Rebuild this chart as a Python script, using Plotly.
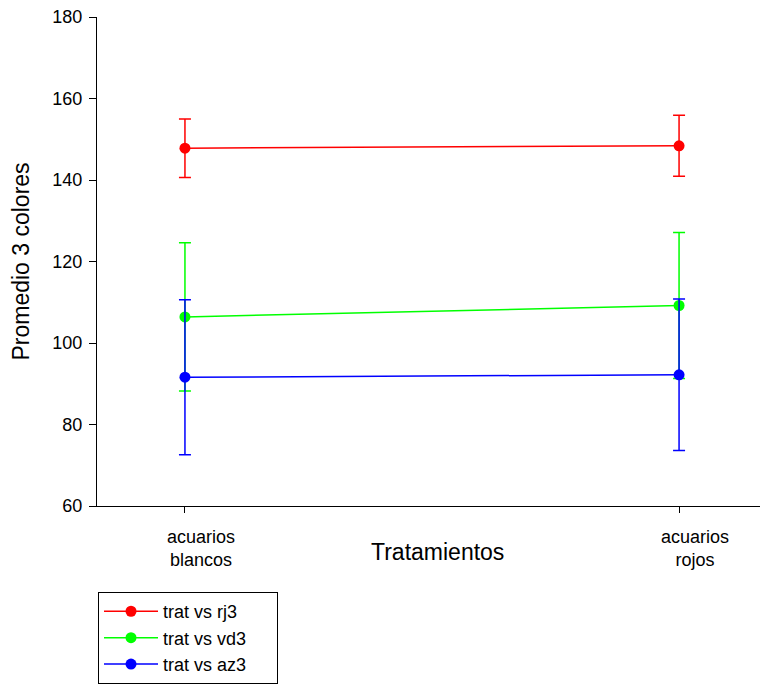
import plotly.graph_objects as go

categories = ["acuarios<br>blancos", "acuarios<br>rojos"]
series_names = ["trat vs rj3", "trat vs vd3", "trat vs az3"]
rj3_mean = [147.8, 148.4]
rj3_err = [7.2, 7.5]
vd3_mean = [106.4, 109.2]
vd3_err = [18.2, 17.9]
az3_mean = [91.6, 92.2]
az3_err = [19.0, 18.6]
y_ticks = [60, 80, 100, 120, 140, 160, 180]

colors = ["#ff0000", "#00ff00", "#0000ff"]
means = [rj3_mean, vd3_mean, az3_mean]
errs = [rj3_err, vd3_err, az3_err]

pad = "\u00a0" * 5

fig = go.Figure()
for name, m, e, c in zip(series_names, means, errs, colors):
    fig.add_trace(go.Scatter(
        x=categories, y=m, name=name + pad, mode="lines+markers",
        line=dict(color=c, width=1.5),
        marker=dict(color=c, size=11),
        error_y=dict(type="data", array=e, visible=True, color=c,
                     thickness=1.5, width=6),
    ))

font = "Liberation Sans, Arial, sans-serif"
fig.update_layout(
    width=768, height=686,
    margin=dict(l=89, r=8, t=9, b=188, autoexpand=False),
    plot_bgcolor="white", paper_bgcolor="white",
    font=dict(family=font, color="black", size=18),
    showlegend=True,
    legend=dict(
        x=0.0015, y=-0.176, xanchor="left", yanchor="top",
        bordercolor="black", borderwidth=1,
        font=dict(size=18, family=font),
        itemwidth=54, tracegroupgap=0,
        bgcolor="white",
    ),
    xaxis=dict(
        type="category", range=[-0.178, 1.18], automargin=False,
        showline=True, linecolor="black", linewidth=1,
        ticks="outside", ticklen=6, tickcolor="black",
        showgrid=False, zeroline=False,
        tickfont=dict(size=18), ticklabelshift=16, ticklabelstandoff=8,
    ),
    yaxis=dict(
        range=[60, 180], tickvals=y_ticks, automargin=False,
        showline=True, linecolor="black", linewidth=1,
        ticks="outside", ticklen=7, tickcolor="black",
        showgrid=False, zeroline=False,
        tickfont=dict(size=18), ticklabelstandoff=3,
        ticklabeloverflow="allow",
        title=dict(text="Promedio 3 colores", font=dict(size=23), standoff=17),
    ),
    annotations=[dict(
        text="Tratamientos", xref="paper", yref="paper",
        x=(437 - 97) / 671, y=-(552 - 506) / 489,
        xanchor="center", yanchor="middle", showarrow=False,
        font=dict(size=23, family=font),
    )],
)

fig.write_html("out.html")
